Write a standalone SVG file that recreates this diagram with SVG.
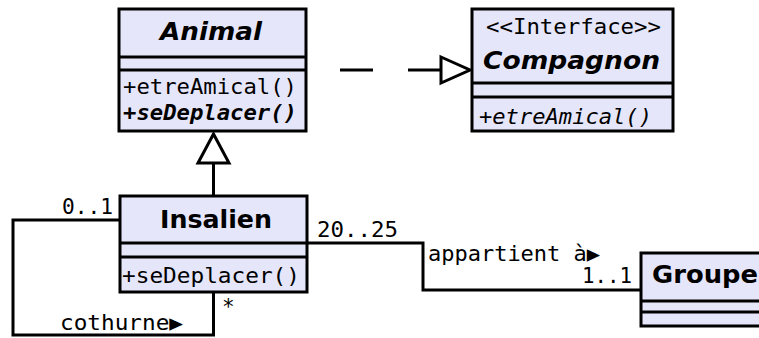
<svg xmlns="http://www.w3.org/2000/svg" width="759" height="338" viewBox="0 0 759 338">
<style>
.box{fill:#e6e6fa;stroke:#000;stroke-width:3}
.ln{stroke:#000;stroke-width:3;fill:none}
.title{font-family:"DejaVu Sans",sans-serif;font-weight:bold;font-size:25px;fill:#000}
.it{font-style:oblique}
.mono{font-family:"DejaVu Sans Mono",monospace;font-size:21px;fill:#000}
.head{fill:#fff;stroke:#000;stroke-width:3}
</style>
<rect width="759" height="338" fill="#fff"/>
<g id="connectors">
<line class="ln" x1="340" y1="70" x2="441" y2="70" stroke-dasharray="33 35"/>
<polygon class="head" points="441,57 470,70 441,83"/>
<line class="ln" x1="213.5" y1="196" x2="213.5" y2="163"/>
<polygon class="head" points="198,163 213.5,134 229,163"/>
<polyline class="ln" points="120,220 13,220 13,335 213.5,335 213.5,292"/>
<polyline class="ln" points="307,243 423,243 423,290 641,290"/>
<text class="mono" x="62" y="214" textLength="51" lengthAdjust="spacingAndGlyphs">0..1</text>
<text class="mono" x="222" y="314">*</text>
<text class="mono" x="60" y="330" textLength="123" lengthAdjust="spacingAndGlyphs">cothurne▶</text>
<text class="mono" x="317" y="237" textLength="81" lengthAdjust="spacingAndGlyphs">20..25</text>
<text class="mono" x="428" y="261" textLength="172" lengthAdjust="spacingAndGlyphs">appartient à▶</text>
<text class="mono" x="582" y="283" textLength="50" lengthAdjust="spacingAndGlyphs">1..1</text>
</g>
<g id="Animal">
<rect class="box" x="119" y="9" width="187" height="122"/>
<line class="ln" x1="119" y1="57" x2="306" y2="57"/>
<line class="ln" x1="119" y1="70" x2="306" y2="70"/>
<text class="title it" x="160" y="40" textLength="102" lengthAdjust="spacingAndGlyphs">Animal</text>
<text class="mono" x="123" y="94" textLength="174" lengthAdjust="spacingAndGlyphs">+etreAmical()</text>
<text class="mono it" x="123" y="120" font-weight="bold" textLength="174" lengthAdjust="spacingAndGlyphs">+seDeplacer()</text>
</g>
<g id="Compagnon">
<rect class="box" x="472" y="9" width="201" height="122"/>
<line class="ln" x1="472" y1="83" x2="673" y2="83"/>
<line class="ln" x1="472" y1="97" x2="673" y2="97"/>
<text class="mono" x="486" y="34" font-size="18" textLength="175" lengthAdjust="spacingAndGlyphs">&lt;&lt;Interface&gt;&gt;</text>
<text class="title it" x="483" y="69" textLength="177" lengthAdjust="spacingAndGlyphs">Compagnon</text>
<text class="mono it" x="479" y="124" textLength="173" lengthAdjust="spacingAndGlyphs">+etreAmical()</text>
</g>
<g id="Insalien">
<rect class="box" x="120" y="196" width="187" height="96"/>
<line class="ln" x1="120" y1="243" x2="307" y2="243"/>
<line class="ln" x1="120" y1="257" x2="307" y2="257"/>
<text class="title" x="160" y="228" textLength="112" lengthAdjust="spacingAndGlyphs">Insalien</text>
<text class="mono" x="122" y="283" textLength="178" lengthAdjust="spacingAndGlyphs">+seDeplacer()</text>
</g>
<g id="Groupe">
<rect class="box" x="641" y="253" width="130" height="73"/>
<line class="ln" x1="641" y1="301" x2="771" y2="301"/>
<line class="ln" x1="641" y1="312" x2="771" y2="312"/>
<text class="title" x="652" y="283" textLength="106" lengthAdjust="spacingAndGlyphs">Groupe</text>
</g>
</svg>
